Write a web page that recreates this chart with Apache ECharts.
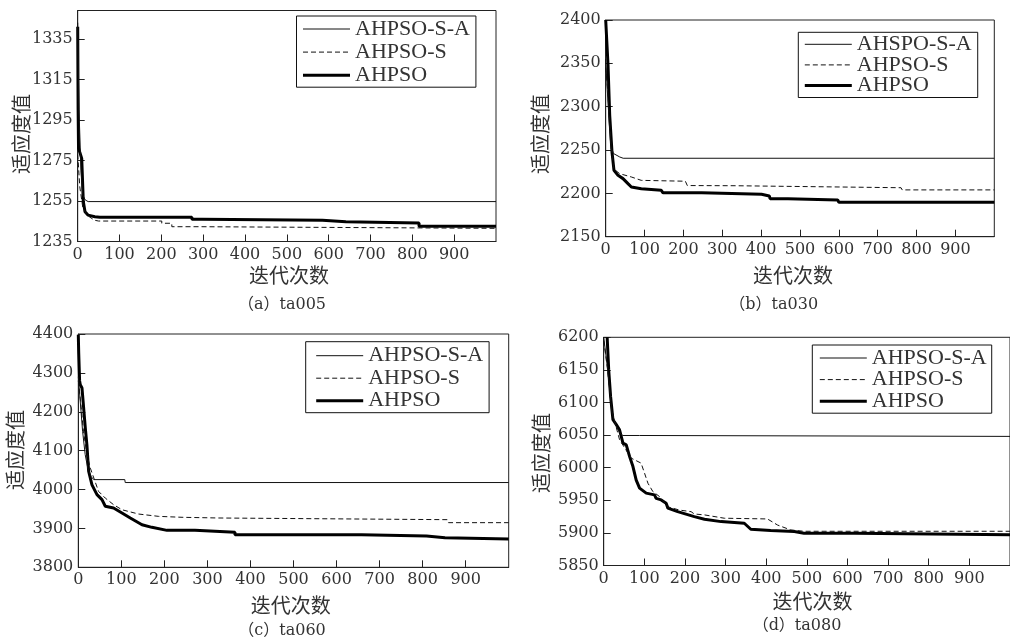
<!DOCTYPE html>
<html><head><meta charset="utf-8">
<script src="https://cdn.jsdelivr.net/npm/echarts@6/dist/echarts.min.js"></script>
<style>html,body{margin:0;padding:0;background:#fff}#c{width:1010px;height:638px}</style>
</head><body><div id="c"></div>
<script>
// ---------- data ----------
const xTicks = [0,100,200,300,400,500,600,700,800,900];
const yTicksA = [1235,1255,1275,1295,1315,1335];
const yTicksB = [2150,2200,2250,2300,2350,2400];
const yTicksC = [3800,3900,4000,4100,4200,4300,4400];
const yTicksD = [5850,5900,5950,6000,6050,6100,6150,6200];
const namesA = ['AHPSO-S-A','AHPSO-S','AHPSO'];
const namesB = ['AHSPO-S-A','AHPSO-S','AHPSO'];
const captions = ['（a）ta005','（b）ta030','（c）ta060','（d）ta080'];
const yName = '适应度值';
const xName = '迭代次数';

// (a) ta005
const a_SA = [[0,1343],[3,1300],[8,1270],[12,1258],[18,1255.5],[25,1254.7],[1000,1254.7]];
const a_S = [[0,1278],[5,1262],[12,1252],[22,1248],[40,1245.5],[50,1245.1],[201,1245.1],[201,1244.0],[225,1244.0],[225,1242.3],[293,1242.3],[293,1241.7],[1000,1241.5]];
const a_H = [[0,1341],[1,1300],[2,1281],[9.6,1276],[13.4,1254.7],[17.5,1249.7],[25,1248],[41,1247.2],[53,1247.0],[273,1247.0],[273,1246.0],[297,1246.0],[297,1245.5],[585,1245.5],[585,1244.8],[641,1244.8],[641,1244.1],[816,1244.1],[816,1242.5],[1000,1242.5]];
// (b) ta030
const b_SA = [[0,2355],[4,2320],[8,2290],[12,2262],[14.4,2251.5],[20,2246],[36,2242],[45,2240.5],[1000,2240.5]];
const b_S = [[0,2345],[5,2320],[10,2285],[15,2250],[21,2228],[36,2222.7],[66,2218.9],[91.6,2215],[205,2214],[210,2209],[333,2208.8],[336,2206.5],[760,2206.5],[763,2204],[1000,2204]];
const b_H = [[0,2400],[6,2347.8],[10.3,2290],[16.2,2247.7],[21.3,2226.6],[31.6,2220.8],[44.5,2217],[57.3,2211.2],[66,2207.3],[91.6,2205.4],[143,2203.5],[147.5,2200.6],[247,2200.6],[247,2198.9],[401,2198.9],[405,2197],[421,2197],[423,2193.9],[469,2193.9],[470,2192.3],[597,2192.3],[600,2189.7],[1000,2189.7]];
// (c) ta060
const c_SA = [[0,4290],[5,4220],[10,4150],[16,4090],[22,4055],[30,4033],[36,4025.5],[108,4025.5],[109,4018],[1000,4018]];
const c_S = [[0,4280],[5,4230],[12,4150],[20,4090],[28,4055],[47,3995.4],[62.7,3978],[82,3961],[101.5,3948],[140,3937],[186.6,3931],[241,3928.6],[326,3926.8],[329,3922.5],[858,3922.5],[860,3914.8],[1000,3914.8]];
const c_H = [[0,4398],[1,4350],[3,4280],[4.6,4269.5],[8.6,4261],[16.3,4158],[20,4115],[24,4047],[31.8,4012],[43.4,3987],[55,3974],[62.7,3957],[82,3952.5],[101.5,3939.6],[120.8,3926.8],[148,3909.5],[171,3902.8],[206,3895],[271,3895],[271,3890],[364,3890],[364,3884],[658,3884],[658,3880.5],[809,3880.5],[809,3876],[852,3876],[852,3872.8],[1000,3872.8]];
// (d) ta080
const d_SA = [[0,6200],[10,6150],[20,6085],[30,6065],[40,6053],[47,6049.4],[88,6049.4],[89,6048],[1000,6048]];
const d_S = [[0,6195],[10,6148],[20,6088],[30,6064],[39,6043],[52,6030],[67.6,6014.7],[92,6007],[100.5,5991.6],[109,5976],[121,5963.4],[137.5,5955.7],[158,5940],[186.5,5935],[215,5932.6],[223,5929],[248,5927.6],[297,5922.5],[403,5921.4],[428,5912],[460.5,5904.5],[493,5902.5],[1000,5902.5]];
const d_H = [[8.5,6200],[12.3,6150],[17,6109],[22.8,6073.5],[31,6066],[39,6058],[47.4,6037.7],[55.5,6035],[63.8,6017],[72,6001.8],[80,5981],[88.3,5968.6],[104.6,5961],[125,5958.3],[129,5953],[141.5,5950.6],[153.7,5945.5],[158,5938],[182,5932.6],[223,5925],[248,5921],[289,5917.3],[346,5914.8],[362,5905.6],[411,5903.5],[469,5902],[493,5899.5],[617,5899.5],[618,5897],[1000,5897]];

// ---------- layout / style ----------
const panels = [
  {grid:{left:77.7,top:10.5,width:418.3,height:231}, y:[1235,1349], yt:yTicksA, names:namesA, data:[a_SA,a_S,a_H],
   legend:{left:296.5,top:16,pad:[2,6,1,5],lh:21,gap:1.1},
   yname:[21.7,134], xname:[289,275], cap:[282,305]},
  {grid:{left:605.7,top:20,width:388.6,height:216.7}, y:[2150,2400], yt:yTicksB, names:namesB, data:[b_SA,b_S,b_H],
   legend:{left:798.3,top:32.3,pad:[1,6,1,5],lh:20,gap:-1.4},
   yname:[540,134], xname:[793,275], cap:[773.7,305]},
  {grid:{left:78.3,top:334,width:430.4,height:233.3}, y:[3800,4400], yt:yTicksC, names:namesA, data:[c_SA,c_S,c_H],
   legend:{left:305.7,top:341.7,pad:[3,6,1,9],lh:21,gap:0.5},
   yname:[15,450], xname:[290.8,605.7], cap:[282,630.7]},
  {grid:{left:603.7,top:337.3,width:407.4,height:228.2}, y:[5850,6200], yt:yTicksD, names:namesA, data:[d_SA,d_S,d_H],
   legend:{left:812.3,top:345,pad:[2,5,1,6],lh:21,gap:-0.4},
   yname:[541.7,453], xname:[812.5,601.7], cap:[797,626.3]}
];
const lineStyles = [
  {color:'#111', width:1, type:'solid'},
  {color:'#111', width:1, type:[5,3]},
  {color:'#000', width:3, type:'solid'}
];
const serif = 'DejaVu Serif';
const legendFont = 'Liberation Serif';
const cjk = 'Noto Sans CJK SC';
const txtColor = '#333';

const grid=[], xAxis=[], yAxis=[], series=[], legend=[], graphic=[];
panels.forEach((p,i)=>{
  grid.push(Object.assign({show:true, borderColor:'#222', borderWidth:1, backgroundColor:'#fff', containLabel:false}, p.grid));
  xAxis.push({type:'value', gridIndex:i, min:0, max:1000,
    axisLine:{show:true, onZero:false, lineStyle:{color:'#222',width:1}},
    axisTick:{show:true, inside:true, length:7, customValues:xTicks, lineStyle:{color:'#222'}},
    axisLabel:{customValues:xTicks, margin:5, color:txtColor, fontFamily:serif, fontSize:16, formatter:v=>String(v)},
    splitLine:{show:false}});
  yAxis.push({type:'value', gridIndex:i, min:p.y[0], max:p.y[1],
    axisLine:{show:true, onZero:false, lineStyle:{color:'#222',width:1}},
    axisTick:{show:true, inside:true, length:7, customValues:p.yt, lineStyle:{color:'#222'}},
    axisLabel:{customValues:p.yt, margin:5, color:txtColor, fontFamily:serif, fontSize:16, formatter:v=>String(v)},
    splitLine:{show:false}});
  p.data.forEach((d,k)=>{
    series.push({type:'line', name:p.names[k], xAxisIndex:i, yAxisIndex:i, data:d,
      symbol:'none', showSymbol:false, clip:true, animation:false, z: 3-k,
      lineStyle:lineStyles[k], itemStyle:{color:lineStyles[k].color}});
  });
  const L = p.legend;
  legend.push({orient:'vertical', left:L.left, top:L.top, padding:L.pad, itemGap:L.gap,
    itemWidth:47, itemHeight:14, borderColor:'#111', borderWidth:1, backgroundColor:'#fff',
    selectedMode:false, itemStyle:{opacity:0},
    data:p.names.map((n,k)=>({name:n, lineStyle:{color:lineStyles[k].color, width:lineStyles[k].width, type:lineStyles[k].type}})),
    textStyle:{fontFamily:legendFont, fontSize:22, color:txtColor, lineHeight:L.lh}});
  graphic.push({type:'text', x:p.yname[0], y:p.yname[1], rotation:Math.PI/2,
    style:{text:yName, font:'20px "'+cjk+'"', fill:txtColor, textAlign:'center', textVerticalAlign:'middle'}});
  graphic.push({type:'text', x:p.xname[0], y:p.xname[1],
    style:{text:xName, font:'20px "'+cjk+'"', fill:txtColor, textAlign:'center', textVerticalAlign:'middle'}});
  graphic.push({type:'text', x:p.cap[0], y:p.cap[1],
    style:{text:captions[i], font:'16px "'+serif+'", "'+cjk+'"', fill:txtColor, textAlign:'center', textVerticalAlign:'middle'}});
});

const chart = echarts.init(document.getElementById('c'), null, {renderer:'canvas'});
chart.setOption({animation:false, backgroundColor:'#fff', grid, xAxis, yAxis, series, legend, graphic});
</script></body></html>
